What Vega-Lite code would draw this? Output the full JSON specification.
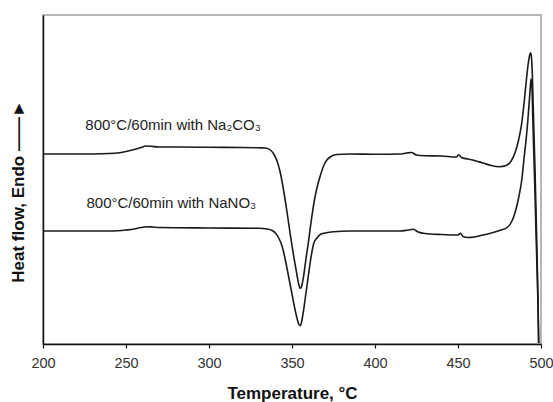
{
  "$schema": "https://vega.github.io/schema/vega-lite/v6.json",
  "width": 498,
  "height": 329,
  "autosize": {"type": "none"},
  "padding": {"left": 43, "top": 15, "right": 12, "bottom": 58},
  "config": {
    "font": "Liberation Sans",
    "view": {"stroke": "#a0a0a0", "strokeWidth": 1.5}
  },
  "datasets": {
    "curves": [
      {"s": "Na2CO3", "T": 200, "hf": 190},
      {"s": "Na2CO3", "T": 220, "hf": 190},
      {"s": "Na2CO3", "T": 240, "hf": 190.5},
      {"s": "Na2CO3", "T": 245, "hf": 191},
      {"s": "Na2CO3", "T": 250, "hf": 192.5},
      {"s": "Na2CO3", "T": 255, "hf": 194.5},
      {"s": "Na2CO3", "T": 259, "hf": 196.5},
      {"s": "Na2CO3", "T": 262, "hf": 198},
      {"s": "Na2CO3", "T": 265, "hf": 197.7},
      {"s": "Na2CO3", "T": 270, "hf": 197},
      {"s": "Na2CO3", "T": 280, "hf": 197},
      {"s": "Na2CO3", "T": 300, "hf": 196.7},
      {"s": "Na2CO3", "T": 320, "hf": 196.5},
      {"s": "Na2CO3", "T": 330, "hf": 196.2},
      {"s": "Na2CO3", "T": 334, "hf": 196},
      {"s": "Na2CO3", "T": 337, "hf": 194},
      {"s": "Na2CO3", "T": 339, "hf": 190},
      {"s": "Na2CO3", "T": 341, "hf": 183},
      {"s": "Na2CO3", "T": 343, "hf": 171},
      {"s": "Na2CO3", "T": 345, "hf": 153},
      {"s": "Na2CO3", "T": 347, "hf": 132},
      {"s": "Na2CO3", "T": 349, "hf": 109},
      {"s": "Na2CO3", "T": 351, "hf": 88},
      {"s": "Na2CO3", "T": 353, "hf": 69},
      {"s": "Na2CO3", "T": 354, "hf": 60},
      {"s": "Na2CO3", "T": 355, "hf": 55.7},
      {"s": "Na2CO3", "T": 356, "hf": 59},
      {"s": "Na2CO3", "T": 357, "hf": 68},
      {"s": "Na2CO3", "T": 358, "hf": 80},
      {"s": "Na2CO3", "T": 359, "hf": 92},
      {"s": "Na2CO3", "T": 360, "hf": 103},
      {"s": "Na2CO3", "T": 361, "hf": 116},
      {"s": "Na2CO3", "T": 362, "hf": 128},
      {"s": "Na2CO3", "T": 363, "hf": 139},
      {"s": "Na2CO3", "T": 365, "hf": 156},
      {"s": "Na2CO3", "T": 367, "hf": 168},
      {"s": "Na2CO3", "T": 369, "hf": 178},
      {"s": "Na2CO3", "T": 371, "hf": 184},
      {"s": "Na2CO3", "T": 374, "hf": 188},
      {"s": "Na2CO3", "T": 377, "hf": 189.5},
      {"s": "Na2CO3", "T": 385, "hf": 190},
      {"s": "Na2CO3", "T": 400, "hf": 189.7},
      {"s": "Na2CO3", "T": 415, "hf": 190},
      {"s": "Na2CO3", "T": 419, "hf": 191},
      {"s": "Na2CO3", "T": 422, "hf": 191.5},
      {"s": "Na2CO3", "T": 425, "hf": 189},
      {"s": "Na2CO3", "T": 430, "hf": 188.3},
      {"s": "Na2CO3", "T": 440, "hf": 188},
      {"s": "Na2CO3", "T": 449, "hf": 187},
      {"s": "Na2CO3", "T": 450.5, "hf": 189.2},
      {"s": "Na2CO3", "T": 452, "hf": 186.5},
      {"s": "Na2CO3", "T": 456, "hf": 185},
      {"s": "Na2CO3", "T": 460, "hf": 183.5},
      {"s": "Na2CO3", "T": 465, "hf": 181},
      {"s": "Na2CO3", "T": 470, "hf": 178.5},
      {"s": "Na2CO3", "T": 475, "hf": 177.3},
      {"s": "Na2CO3", "T": 479, "hf": 178.5},
      {"s": "Na2CO3", "T": 482, "hf": 183},
      {"s": "Na2CO3", "T": 484.3, "hf": 191},
      {"s": "Na2CO3", "T": 486.5, "hf": 204},
      {"s": "Na2CO3", "T": 488.4, "hf": 221},
      {"s": "Na2CO3", "T": 490, "hf": 244},
      {"s": "Na2CO3", "T": 491, "hf": 261},
      {"s": "Na2CO3", "T": 492.2, "hf": 279},
      {"s": "Na2CO3", "T": 493.2, "hf": 289},
      {"s": "Na2CO3", "T": 493.8, "hf": 291.3},
      {"s": "Na2CO3", "T": 494.3, "hf": 286},
      {"s": "Na2CO3", "T": 494.8, "hf": 269},
      {"s": "Na2CO3", "T": 495.2, "hf": 244},
      {"s": "Na2CO3", "T": 495.8, "hf": 209},
      {"s": "Na2CO3", "T": 496.4, "hf": 174},
      {"s": "Na2CO3", "T": 497, "hf": 134},
      {"s": "Na2CO3", "T": 497.7, "hf": 84},
      {"s": "Na2CO3", "T": 498.2, "hf": 44},
      {"s": "Na2CO3", "T": 498.6, "hf": 1},
      {"s": "NaNO3", "T": 200, "hf": 113},
      {"s": "NaNO3", "T": 240, "hf": 113},
      {"s": "NaNO3", "T": 245, "hf": 113.3},
      {"s": "NaNO3", "T": 250, "hf": 114},
      {"s": "NaNO3", "T": 255, "hf": 115},
      {"s": "NaNO3", "T": 259, "hf": 116.5},
      {"s": "NaNO3", "T": 263, "hf": 117.3},
      {"s": "NaNO3", "T": 266, "hf": 117},
      {"s": "NaNO3", "T": 270, "hf": 116.5},
      {"s": "NaNO3", "T": 300, "hf": 116},
      {"s": "NaNO3", "T": 330, "hf": 115.7},
      {"s": "NaNO3", "T": 335, "hf": 115},
      {"s": "NaNO3", "T": 338, "hf": 113.5},
      {"s": "NaNO3", "T": 340, "hf": 111},
      {"s": "NaNO3", "T": 342, "hf": 106},
      {"s": "NaNO3", "T": 344, "hf": 98},
      {"s": "NaNO3", "T": 346, "hf": 84},
      {"s": "NaNO3", "T": 348, "hf": 67},
      {"s": "NaNO3", "T": 350, "hf": 50},
      {"s": "NaNO3", "T": 352, "hf": 33},
      {"s": "NaNO3", "T": 353, "hf": 26},
      {"s": "NaNO3", "T": 354, "hf": 20},
      {"s": "NaNO3", "T": 355, "hf": 18.3},
      {"s": "NaNO3", "T": 356, "hf": 24},
      {"s": "NaNO3", "T": 357, "hf": 34},
      {"s": "NaNO3", "T": 358, "hf": 46},
      {"s": "NaNO3", "T": 359, "hf": 58},
      {"s": "NaNO3", "T": 360, "hf": 70},
      {"s": "NaNO3", "T": 361, "hf": 82},
      {"s": "NaNO3", "T": 362, "hf": 92},
      {"s": "NaNO3", "T": 363, "hf": 100},
      {"s": "NaNO3", "T": 365, "hf": 106},
      {"s": "NaNO3", "T": 367, "hf": 109.5},
      {"s": "NaNO3", "T": 370, "hf": 111},
      {"s": "NaNO3", "T": 375, "hf": 112.3},
      {"s": "NaNO3", "T": 385, "hf": 113},
      {"s": "NaNO3", "T": 400, "hf": 113},
      {"s": "NaNO3", "T": 415, "hf": 113},
      {"s": "NaNO3", "T": 420, "hf": 114},
      {"s": "NaNO3", "T": 423, "hf": 114.7},
      {"s": "NaNO3", "T": 426, "hf": 112},
      {"s": "NaNO3", "T": 430, "hf": 110.5},
      {"s": "NaNO3", "T": 440, "hf": 109.5},
      {"s": "NaNO3", "T": 450, "hf": 109},
      {"s": "NaNO3", "T": 451.5, "hf": 110.7},
      {"s": "NaNO3", "T": 453, "hf": 107.5},
      {"s": "NaNO3", "T": 456, "hf": 106.5},
      {"s": "NaNO3", "T": 460, "hf": 107},
      {"s": "NaNO3", "T": 465, "hf": 109},
      {"s": "NaNO3", "T": 469, "hf": 110.5},
      {"s": "NaNO3", "T": 475, "hf": 113.5},
      {"s": "NaNO3", "T": 480, "hf": 117},
      {"s": "NaNO3", "T": 482.5, "hf": 123},
      {"s": "NaNO3", "T": 484.3, "hf": 131},
      {"s": "NaNO3", "T": 486.5, "hf": 146},
      {"s": "NaNO3", "T": 488.4, "hf": 164},
      {"s": "NaNO3", "T": 490, "hf": 189},
      {"s": "NaNO3", "T": 491, "hf": 204},
      {"s": "NaNO3", "T": 492, "hf": 222},
      {"s": "NaNO3", "T": 493, "hf": 244},
      {"s": "NaNO3", "T": 493.6, "hf": 258},
      {"s": "NaNO3", "T": 494, "hf": 265},
      {"s": "NaNO3", "T": 494.5, "hf": 259},
      {"s": "NaNO3", "T": 495.1, "hf": 224},
      {"s": "NaNO3", "T": 495.7, "hf": 189},
      {"s": "NaNO3", "T": 496.4, "hf": 149},
      {"s": "NaNO3", "T": 497, "hf": 111},
      {"s": "NaNO3", "T": 497.7, "hf": 69},
      {"s": "NaNO3", "T": 498.2, "hf": 39},
      {"s": "NaNO3", "T": 498.6, "hf": 1}
    ],
    "labels": [
      {"T": 225.5, "hf": 214, "label": "800°C/60min with Na₂CO₃"},
      {"T": 226.2, "hf": 136, "label": "800°C/60min with NaNO₃"}
    ]
  },
  "layer": [
    {
      "data": {"name": "curves"},
      "mark": {"type": "line", "color": "#1a1a1a", "strokeWidth": 1.6, "interpolate": "monotone", "clip": true},
      "encoding": {
        "x": {
          "field": "T", "type": "quantitative",
          "scale": {"domain": [200, 500], "nice": false},
          "axis": {
            "title": "Temperature, °C",
            "titleFontSize": 17, "titleFontWeight": "bold", "titleColor": "#111",
            "titlePadding": 16,
            "values": [200, 250, 300, 350, 400, 450, 500],
            "labelFontSize": 14.5, "labelColor": "#333", "labelPadding": 8,
            "labelFlush": false,
            "tickSize": 4, "tickColor": "#111", "tickWidth": 1.2,
            "domainColor": "#111", "domainWidth": 1.5,
            "grid": false
          }
        },
        "y": {
          "field": "hf", "type": "quantitative",
          "scale": {"domain": [0, 329], "nice": false},
          "axis": {
            "title": "Heat flow, Endo    ——►",
            "titleFontSize": 17, "titleFontWeight": "bold", "titleColor": "#111",
            "titleAngle": -90, "titleAlign": "center", "titleBaseline": "middle",
            "titleX": -25, "titleY": 176,
            "labels": false, "ticks": false, "grid": false,
            "domainColor": "#111", "domainWidth": 1.5
          }
        },
        "detail": {"field": "s", "type": "nominal"}
      }
    },
    {
      "data": {"name": "labels"},
      "mark": {"type": "text", "align": "left", "baseline": "alphabetic", "fontSize": 15, "color": "#222"},
      "encoding": {
        "x": {"field": "T", "type": "quantitative"},
        "y": {"field": "hf", "type": "quantitative"},
        "text": {"field": "label", "type": "nominal"}
      }
    }
  ]
}
